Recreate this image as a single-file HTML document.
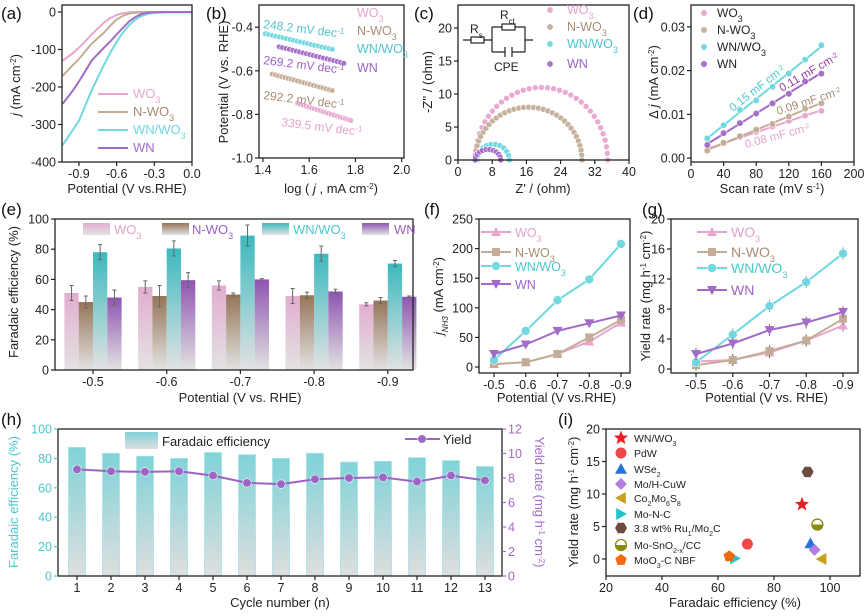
<!DOCTYPE html>
<html><head><meta charset="utf-8"><style>
html,body{margin:0;padding:0;background:#fff}
svg{display:block;font-family:"Liberation Sans",Arial,sans-serif}
</style></head><body>
<svg id="fig" width="865" height="616" viewBox="0 0 865 616" xmlns="http://www.w3.org/2000/svg">
<defs>
<linearGradient id="gPink" x1="0" y1="0" x2="0" y2="1"><stop offset="0" stop-color="#e2aed0"/><stop offset="1" stop-color="#e2e2e2"/></linearGradient>
<linearGradient id="gBrown" x1="0" y1="0" x2="0" y2="1"><stop offset="0" stop-color="#957558"/><stop offset="1" stop-color="#e2e2e2"/></linearGradient>
<linearGradient id="gTeal" x1="0" y1="0" x2="0" y2="1"><stop offset="0" stop-color="#3cb9bf"/><stop offset="1" stop-color="#e2e2e2"/></linearGradient>
<linearGradient id="gPurple" x1="0" y1="0" x2="0" y2="1"><stop offset="0" stop-color="#8e55b0"/><stop offset="1" stop-color="#e2e2e2"/></linearGradient>
<linearGradient id="gH" x1="0" y1="0" x2="0" y2="1"><stop offset="0" stop-color="#7fd3d8"/><stop offset="1" stop-color="#dedede"/></linearGradient>
</defs>
</svg>
<script>
// ---------- DATA ----------
const seriesNames = ['WO3','N-WO3','WN/WO3','WN'];
// (a) LSV
const lsvPot = [-1.03,-0.95,-0.9,-0.85,-0.8,-0.75,-0.7,-0.65,-0.6,-0.55,-0.5,-0.45,-0.4,-0.35,-0.3,-0.2,0];
const lsvWO3 = [-130,-110,-95,-78,-60,-44,-28,-16,-8,-3,-1,0,0,0,0,0,0];
const lsvNWO3 = [-170,-142,-125,-105,-85,-70,-55,-36,-20,-10,-4,-2,-1,0,0,0,0];
const lsvWNWO3 = [-355,-315,-290,-250,-210,-175,-140,-108,-80,-55,-35,-20,-10,-5,-2,-1,-1];
const lsvWN = [-245,-210,-185,-158,-130,-112,-95,-78,-60,-42,-25,-13,-5,-2,-1,0,0];
// (b) Tafel
const tafelStart = [1.55,1.44,1.41,1.47];
const tafelEnd = [1.78,1.70,1.70,1.75];
const tafelY0 = [-0.75,-0.615,-0.43,-0.49];
const tafelSlope = [339.5,292.2,248.2,269.2];
// (c) Nyquist
const nyqRs = [4,4,4.5,4];
const nyqRct = [31,25,7.5,6];
const nyqPeak = [11,8,2.4,1.6];
// (d) Cdl
const scanRates = [20,40,60,80,100,120,140,160];
const cdlWO3 = [0.002,0.0033,0.0048,0.006,0.0072,0.0085,0.0097,0.0108];
const cdlNWO3 = [0.0017,0.0035,0.005,0.0065,0.0078,0.0095,0.0113,0.0125];
const cdlWNWO3 = [0.0045,0.0075,0.011,0.0132,0.0163,0.0193,0.0225,0.0258];
const cdlWN = [0.003,0.0057,0.008,0.0102,0.0125,0.0147,0.0175,0.0193];
// (e) FE bars
const potLabels = ['-0.5','-0.6','-0.7','-0.8','-0.9'];
const feWO3 = [51,55,56,49,43.5];
const feNWO3 = [45,49,50,49.5,46];
const feWNWO3 = [78,80.5,89,77,70.5];
const feWN = [48,59.5,60,52,48.5];
const errWO3 = [5,4,3,5,1];
const errNWO3 = [4,7,1,2,2];
const errWNWO3 = [5,5,7,5,2];
const errWN = [5,5,0.5,1.5,0.5];
// (f) jNH3
const jWO3 = [5,8,22,43,75];
const jNWO3 = [5,8,22,50,80];
const jWNWO3 = [12,61,113,148,208];
const jWN = [22,38,61,74,87];
// (g) yield
const yWO3 = [1,1.2,2.2,3.8,5.8];
const yNWO3 = [0.5,1.2,2.4,3.8,6.7];
const yWNWO3 = [0.9,4.6,8.4,11.6,15.4];
const yWN = [2,3.4,5.2,6.2,7.6];
const yErr = [0.8,0.8,0.8,0.8,0.8];
// (h) cycling
const cycles = [1,2,3,4,5,6,7,8,9,10,11,12,13];
const cycFE = [87.5,83.5,81.5,80,84,82.5,80,83.5,77.5,78,80.5,78.5,74.5];
const cycYield = [8.7,8.55,8.5,8.55,8.2,7.6,7.5,7.9,8.0,8.05,7.7,8.2,7.8];
// (i) comparison
const cmpNames = ['WN/WO<tspan baseline-shift="sub" font-size="7">3</tspan>','PdW','WSe<tspan baseline-shift="sub" font-size="7">2</tspan>','Mo/H-CuW','Co<tspan baseline-shift="sub" font-size="7">2</tspan>Mo<tspan baseline-shift="sub" font-size="7">6</tspan>S<tspan baseline-shift="sub" font-size="7">8</tspan>','Mo-N-C','3.8 wt% Ru<tspan baseline-shift="sub" font-size="7">1</tspan>/Mo<tspan baseline-shift="sub" font-size="7">2</tspan>C','Mo-SnO<tspan baseline-shift="sub" font-size="7">2-x</tspan>/CC','MoO<tspan baseline-shift="sub" font-size="7">3</tspan>-C NBF'];
const cmpFE = [90,70.5,93,94.5,97,66,92,95.5,64];
const cmpYield = [8.4,2.3,2.4,1.4,0,0.1,13.4,5.3,0.4];

// ---------- STYLE ----------
const lineCol = ['#e8a6cf','#c3ad97','#6dd8df','#a26bc9'];
const txtCol = ['#e3a3cd','#a88c74','#4cc6cc','#9a62c2'];
const gradIds = ['gPink','gBrown','gTeal','gPurple'];
const subName = ['WO<tspan baseline-shift="sub" font-size="9">3</tspan>','N-WO<tspan baseline-shift="sub" font-size="9">3</tspan>','WN/WO<tspan baseline-shift="sub" font-size="9">3</tspan>','WN'];

const NS='http://www.w3.org/2000/svg';
const svg=document.getElementById('fig');
function el(tag, attrs, name){
  const e=document.createElementNS(NS,tag);
  for(const k in attrs) e.setAttribute(k,attrs[k]);
  
  
  svg.appendChild(e);
  return e;
}
function txt(x,y,s,size,fill,anchor,name,rot){
  const a={x:x,y:y,'font-size':size,fill:fill||'#222','text-anchor':anchor||'start'};
  if(rot!==undefined) a.transform='rotate('+rot+' '+x+' '+y+')';
  const e=el('text',a,name);
  e.innerHTML=s;
  return e;
}
function lin(d0,d1,r0,r1){return v=>r0+(v-d0)*(r1-r0)/(d1-d0);}
function frame(x0,y0,x1,y1,name){el('rect',{x:x0,y:y0,width:x1-x0,height:y1-y0,fill:'none',stroke:'#222','stroke-width':1.3},name);}
function xTicks(sc,yb,vals,labels,name){
  vals.forEach((v,i)=>{const x=sc(v);
    el('line',{x1:x,x2:x,y1:yb,y2:yb+4,stroke:'#222','stroke-width':1.2},name+'-tick');
    txt(x,yb+16,labels[i],12.5,'#222','middle',name+'-label');});
}
function yTicks(sc,xl,vals,labels,name,col,right){
  vals.forEach((v,i)=>{const y=sc(v);
    el('line',{x1:xl,x2:right?xl+4:xl-4,y1:y,y2:y,stroke:col||'#222','stroke-width':1.2},name+'-tick');
    txt(right?xl+6:xl-6,y+4.5,labels[i],12.5,col||'#222',right?'start':'end',name+'-label');});
}
function poly(pts,col,w,name){el('polyline',{points:pts.map(p=>p[0].toFixed(1)+','+p[1].toFixed(1)).join(' '),fill:'none',stroke:col,'stroke-width':w,'stroke-linejoin':'round'},name);}
function ball(x,y,r,col,name){el('circle',{cx:x,cy:y,r:r,fill:col,stroke:'#fff','stroke-width':0.6,opacity:0.95},name);}
function tri(x,y,r,col,dir,name){
  let p;
  if(dir==='up') p=[[x,y-r],[x+r,y+r*0.8],[x-r,y+r*0.8]];
  else if(dir==='down') p=[[x,y+r],[x+r,y-r*0.8],[x-r,y-r*0.8]];
  else if(dir==='left') p=[[x-r,y],[x+r*0.8,y-r],[x+r*0.8,y+r]];
  else p=[[x+r,y],[x-r*0.8,y-r],[x-r*0.8,y+r]];
  el('polygon',{points:p.map(q=>q.join(',')).join(' '),fill:col},name);
}
function square(x,y,r,col,name){el('rect',{x:x-r,y:y-r,width:2*r,height:2*r,fill:col},name);}
function label(x,y,s,name){txt(x,y,s,17,'#111','start',name);}

// ===== (a) =====
(function(){
  const sx=lin(-1.035,0,62,192), sy=lin(-400,18.7,162,5);
  label(1,19,'(a)','panel-a-label');
  const sets=[lsvWO3,lsvNWO3,lsvWNWO3,lsvWN];
  sets.forEach((s,k)=>poly(lsvPot.map((p,i)=>[sx(p),sy(s[i])]),lineCol[k],2,'lsv-curve-'+seriesNames[k]));
  frame(62,5,192,162,'panel-a-frame');
  xTicks(sx,162,[-0.9,-0.6,-0.3,0],['-0.9','-0.6','-0.3','0.0'],'a-x');
  yTicks(sy,62,[0,-100,-200,-300,-400],['0','-100','-200','-300','-400'],'a-y');
  txt(127,193,'Potential (V vs.RHE)',13,'#222','middle','a-x-title');
  txt(20,85,'<tspan font-style="italic">j</tspan> (mA cm<tspan baseline-shift="super" font-size="8">-2</tspan>)',13,'#222','middle','a-y-title',-90);
  [98,116,134,152].forEach((y,k)=>{
    el('line',{x1:98,x2:128,y1:y-4,y2:y-4,stroke:lineCol[k],'stroke-width':2},'a-legend-line');
    txt(133,y,subName[k],13,k===1?'#a88c74':lineCol[k],'start','a-legend-text');
  });
})();

// ===== (b) =====
(function(){
  const sx=lin(1.383,2.01,259,404), sy=lin(-1.0,-0.3,158,5.4);
  label(206,19,'(b)','panel-b-label');
  for(let k=0;k<4;k++){
    const n=20;
    for(let i=0;i<n;i++){
      const x=tafelStart[k]+(tafelEnd[k]-tafelStart[k])*i/(n-1);
      const y=tafelY0[k]-tafelSlope[k]/1000*(x-tafelStart[k]);
      ball(sx(x),sy(y),2.8,lineCol[k],'tafel-point-'+seriesNames[k]);
    }
  }
  frame(259,5,404,158,'panel-b-frame');
  xTicks(sx,158,[1.4,1.6,1.8,2.0],['1.4','1.6','1.8','2.0'],'b-x');
  yTicks(sy,259,[-0.4,-0.6,-0.8,-1.0],['-0.4','-0.6','-0.8','-1.0'],'b-y');
  txt(331,193,'log ( <tspan font-style="italic">j</tspan> , mA cm<tspan baseline-shift="super" font-size="8">-2</tspan>)',13,'#222','middle','b-x-title');
  txt(228,82,'Potential (V vs. RHE)',13,'#222','middle','b-y-title',-90);
  const sup='<tspan baseline-shift="super" font-size="8">-1</tspan>';
  txt(263,28,'248.2  mV dec'+sup,12,txtCol[2],'start','tafel-label-wnwo3',7);
  txt(263,64,'269.2  mV dec'+sup,12,txtCol[3],'start','tafel-label-wn',7);
  txt(263,99,'292.2  mV dec'+sup,12,txtCol[1],'start','tafel-label-nwo3',7);
  txt(281,126,'339.5  mV dec'+sup,12,txtCol[0],'start','tafel-label-wo3',7);
  [17,35,53,72].forEach((y,k)=>txt(357,y,subName[k],12.5,txtCol[k],'start','b-legend-text'));
})();

// ===== (c) =====
(function(){
  const sx=lin(0,40,458,629), sy=lin(0,23.5,160,5);
  label(414,19,'(c)','panel-c-label');
  for(let k=0;k<4;k++){
    const n=k<2?34:11;
    for(let i=0;i<=n;i++){
      const t=Math.PI*i/n;
      const x=nyqRs[k]+nyqRct[k]/2*(1-Math.cos(t));
      const y=nyqPeak[k]*Math.sin(t);
      ball(sx(x),sy(y),3,lineCol[k],'nyquist-point-'+seriesNames[k]);
    }
  }
  frame(458,5,629,160,'panel-c-frame');
  xTicks(sx,160,[0,8,16,24,32,40],['0','8','16','24','32','40'],'c-x');
  yTicks(sy,458,[0,5,10,15,20],['0','5','10','15','20'],'c-y');
  txt(543,193,"Z' / (ohm)",13,'#222','middle','c-x-title');
  txt(432,82,"-Z'' / (ohm)",13,'#222','middle','c-y-title',-90);
  el('path',{d:'M463,40 H471 M484,40 H492 M492,27 V52 M492,27 H502 M515,27 H525 V52 M525,40 H533 M492,52 H505 M512,52 H525 M505,47 V57 M512,47 V57',stroke:'#222',fill:'none','stroke-width':1.2},'circuit-wires');
  el('rect',{x:471,y:37,width:13,height:6,fill:'#fff',stroke:'#222','stroke-width':1.2},'circuit-rs');
  el('rect',{x:502,y:24,width:13,height:6,fill:'#fff',stroke:'#222','stroke-width':1.2},'circuit-rct');
  txt(470,33,'R<tspan baseline-shift="sub" font-size="8">s</tspan>',12,'#222','start','rs-label');
  txt(500,19,'R<tspan baseline-shift="sub" font-size="8">ct</tspan>',12,'#222','start','rct-label');
  txt(494,71,'CPE',12,'#222','start','cpe-label');
  [14,31,48,68].forEach((y,k)=>{ball(550,y-4,3.2,lineCol[k],'c-legend-marker');txt(567,y,subName[k],12.5,txtCol[k],'start','c-legend-text');});
})();

// ===== (d) =====
(function(){
  const sx=lin(0,200,691,854), sy=lin(-0.0009,0.035,162,5);
  label(633,19,'(d)','panel-d-label');
  const sets=[cdlWO3,cdlNWO3,cdlWNWO3,cdlWN];
  sets.forEach((s,k)=>{
    const n=s.length; let mx=0,my=0; scanRates.forEach((x,i)=>{mx+=x;my+=s[i];}); mx/=n;my/=n;
    let num=0,den=0; scanRates.forEach((x,i)=>{num+=(x-mx)*(s[i]-my);den+=(x-mx)*(x-mx);});
    const b=num/den,a=my-b*mx;
    el('line',{x1:sx(20),y1:sy(a+b*20),x2:sx(160),y2:sy(a+b*160),stroke:lineCol[k],'stroke-width':2},'cdl-fit-'+seriesNames[k]);
    scanRates.forEach((x,i)=>ball(sx(x),sy(s[i]),3.3,lineCol[k],'cdl-point-'+seriesNames[k]));
  });
  frame(691,5,854,162,'panel-d-frame');
  xTicks(sx,162,[0,40,80,120,160,200],['0','40','80','120','160','200'],'d-x');
  yTicks(sy,691,[0,0.01,0.02,0.03],['0.00','0.01','0.02','0.03'],'d-y');
  txt(772,193,'Scan rate (mV s<tspan baseline-shift="super" font-size="8">-1</tspan>)',13,'#222','middle','d-x-title');
  txt(658,82,'Δ <tspan font-style="italic">j</tspan> (mA cm<tspan baseline-shift="super" font-size="8">-2</tspan>)',13,'#222','middle','d-y-title',-90);
  const sup='<tspan baseline-shift="super" font-size="7">-2</tspan>';
  txt(733,112,'0.15 mF cm'+sup,11.5,txtCol[2],'start','cdl-label-wnwo3',-38);
  txt(782,92,'0.11 mF cm'+sup,11.5,'#9b3c9c','start','cdl-label-wn',-30);
  txt(778,115,'0.09 mF cm'+sup,11.5,'#a88c74','start','cdl-label-nwo3',-18);
  txt(746,148,'0.08 mF cm'+sup,11.5,txtCol[0],'start','cdl-label-wo3',-15);
  [17,34,51,68].forEach((y,k)=>{ball(704,y-4,3.3,lineCol[k],'d-legend-marker');txt(717,y,subName[k],12,'#222','start','d-legend-text');});
})();

// ===== (e) =====
(function(){
  const sy=lin(0,100,370,219);
  const cx=i=>93+i*73.7;
  label(1,215,'(e)','panel-e-label');
  const sets=[feWO3,feNWO3,feWNWO3,feWN], errs=[errWO3,errNWO3,errWNWO3,errWN];
  potLabels.forEach((p,i)=>{
    sets.forEach((s,k)=>{
      const x=cx(i)-28.6+k*14.3;
      el('rect',{x:x,y:sy(s[i]),width:14.3,height:370-sy(s[i]),fill:'url(#'+gradIds[k]+')'},'fe-bar-'+seriesNames[k]);
      const xm=x+7.15;
      el('path',{d:'M'+xm+','+sy(s[i]+errs[k][i])+' V'+sy(s[i]-errs[k][i])+' M'+(xm-2)+','+sy(s[i]+errs[k][i])+' H'+(xm+2)+' M'+(xm-2)+','+sy(s[i]-errs[k][i])+' H'+(xm+2),stroke:'#666','stroke-width':1},'fe-error-bar');
    });
  });
  frame(55,219,413,370,'panel-e-frame');
  xTicks(cx,370,[0,1,2,3,4],potLabels,'e-x');
  yTicks(sy,55,[0,20,40,60,80,100],['0','20','40','60','80','100'],'e-y');
  txt(240,402,'Potential (V vs. RHE)',13,'#222','middle','e-x-title');
  txt(18,292,'Faradaic efficiency (%)',13,'#222','middle','e-y-title',-90);
  [[83,114],[162,192],[262,293],[362,394]].forEach((p,k)=>{
    el('rect',{x:p[0],y:223,width:27,height:12,fill:'url(#'+gradIds[k]+')'},'e-legend-swatch');
    txt(p[1],234,subName[k],13,k===1?'#9a62c2':txtCol[k],'start','e-legend-text');
  });
})();

// ===== (f) & (g) =====
function linePanel(opt){
  const sx=i=>opt.x0+i*opt.step, sy=lin(opt.ymin,opt.ymax,373,219);
  label(opt.lx,215,opt.label,opt.pname+'-label');
  opt.sets.forEach((s,k)=>{
    poly(s.map((v,i)=>[sx(i),sy(v)]),lineCol[k],2,opt.pname+'-line-'+seriesNames[k]);
    s.forEach((v,i)=>{
      const x=sx(i),y=sy(v);
      if(opt.err){el('path',{d:'M'+x+','+sy(v+opt.err[i])+' V'+sy(v-opt.err[i]),stroke:'#777','stroke-width':1},opt.pname+'-error');}
      if(k===0) tri(x,y,5,lineCol[0],'up',opt.pname+'-marker-WO3');
      else if(k===1) square(x,y,4,lineCol[1],opt.pname+'-marker-NWO3');
      else if(k===2) ball(x,y,4.5,lineCol[2],opt.pname+'-marker-WNWO3');
      else tri(x,y,5,lineCol[3],'down',opt.pname+'-marker-WN');
    });
  });
  frame(opt.fx0,219,opt.fx1,373,opt.pname+'-frame');
  xTicks(sx,373,[0,1,2,3,4],potLabels,opt.pname+'-x');
  yTicks(sy,opt.fx0,opt.yt,opt.yt.map(String),opt.pname+'-y');
  txt((opt.fx0+opt.fx1)/2+2,402,opt.xtitle,13,'#222','middle',opt.pname+'-x-title');
  txt(opt.ytx,296,opt.ytitle,13,'#222','middle',opt.pname+'-y-title',-90);
  opt.legY.forEach((y,k)=>{
    const x=opt.legX;
    el('line',{x1:x,x2:x+30,y1:y,y2:y,stroke:lineCol[k],'stroke-width':2},opt.pname+'-legend-line');
    if(k===0) tri(x+15,y,5,lineCol[0],'up','legend-marker');
    else if(k===1) square(x+15,y,4,lineCol[1],'legend-marker');
    else if(k===2) ball(x+15,y,4.5,lineCol[2],'legend-marker');
    else tri(x+15,y,5,lineCol[3],'down','legend-marker');
    txt(x+34,y+5,subName[k],opt.legSize,txtCol[k],'start',opt.pname+'-legend-text');
  });
}
linePanel({pname:'panel-f',label:'(f)',lx:424,x0:494,step:31.75,ymin:-10.1,ymax:250,fx0:479,fx1:630,
  sets:[jWO3,jNWO3,jWNWO3,jWN],yt:[0,50,100,150,200,250],xtitle:'Potential (V vs.RHE)',
  ytitle:'<tspan font-style="italic">j</tspan><tspan baseline-shift="sub" font-size="8" font-style="italic">NH3</tspan> (mA cm<tspan baseline-shift="super" font-size="8">-2</tspan>)',ytx:443,
  legX:481,legY:[232,252,266,284],legSize:12.5});
linePanel({pname:'panel-g',label:'(g)',lx:642,x0:696,step:36.75,ymin:-0.53,ymax:20,fx0:671,fx1:858,
  sets:[yWO3,yNWO3,yWNWO3,yWN],err:yErr,yt:[0,4,8,12,16,20],xtitle:'Potential (V vs. RHE)',
  ytitle:'Yield rate (mg h<tspan baseline-shift="super" font-size="8">-1</tspan> cm<tspan baseline-shift="super" font-size="8">-2</tspan>)',ytx:650,
  legX:697,legY:[232,252,268,290],legSize:14});

// ===== (h) =====
(function(){
  const sx=lin(1,13,77,485), sy=lin(0,100,576,429), sy2=lin(0,12,576,429);
  label(1,425,'(h)','panel-h-label');
  cycles.forEach((c,i)=>el('rect',{x:sx(c)-8.5,y:sy(cycFE[i]),width:17,height:576-sy(cycFE[i]),fill:'url(#gH)',stroke:'#a8e3e6','stroke-width':0.8},'cycle-fe-bar'));
  poly(cycles.map((c,i)=>[sx(c),sy2(cycYield[i])]),'#9d63c4',2,'cycle-yield-line');
  cycles.forEach((c,i)=>ball(sx(c),sy2(cycYield[i]),4.3,'#9d63c4','cycle-yield-point'));
  frame(58,429,502,576,'panel-h-frame');
  xTicks(sx,576,cycles,cycles.map(String),'h-x');
  yTicks(sy,58,[0,20,40,60,80,100],['0','20','40','60','80','100'],'h-y-left','#4cc6cc');
  yTicks(sy2,502,[0,2,4,6,8,10,12],['0','2','4','6','8','10','12'],'h-y-right','#a26bc9',true);
  txt(280,607,'Cycle number (n)',13,'#222','middle','h-x-title');
  txt(18,502,'Faradaic efficiency (%)',13,'#4cc6cc','middle','h-y-left-title',-90);
  txt(535,502,'Yield rate (mg h<tspan baseline-shift="super" font-size="8">-1</tspan> cm<tspan baseline-shift="super" font-size="8">-2</tspan>)',13,'#a26bc9','middle','h-y-right-title',90);
  el('rect',{x:125,y:432,width:33,height:17,fill:'url(#gH)'},'h-legend-swatch');
  txt(162,446,'Faradaic efficiency',13,'#222','start','h-legend-text');
  el('line',{x1:405,x2:440,y1:439,y2:439,stroke:'#9d63c4','stroke-width':2},'h-legend-line');
  ball(422,439,4.3,'#9d63c4','h-legend-marker');
  txt(443,444,'Yield',13,'#222','start','h-legend-yield-text');
})();

// ===== (i) =====
function cmpMarker(k,x,y,name){
  if(k===0){let p=[];for(let j=0;j<10;j++){const r=j%2?3.2:7.5,a=-Math.PI/2+j*Math.PI/5;p.push((x+r*Math.cos(a)).toFixed(1)+','+(y+r*Math.sin(a)).toFixed(1));}el('polygon',{points:p.join(' '),fill:'#ee1c25'},name);}
  else if(k===1) el('circle',{cx:x,cy:y,r:5.5,fill:'#f04848'},name);
  else if(k===2) tri(x,y,6,'#2673d9','up',name);
  else if(k===3) el('polygon',{points:[x,y-6,x+6,y,x,y+6,x-6,y].join(','),fill:'#b47ee0'},name);
  else if(k===4) tri(x,y,6,'#c8a020','left',name);
  else if(k===5) tri(x,y,6,'#22c4cc','right',name);
  else if(k===6){let p=[];for(let j=0;j<6;j++){const a=j*Math.PI/3;p.push((x+6*Math.cos(a)).toFixed(1)+','+(y+6*Math.sin(a)).toFixed(1));}el('polygon',{points:p.join(' '),fill:'#6e4a40'},name);}
  else if(k===7){el('circle',{cx:x,cy:y,r:5.5,fill:'#fff',stroke:'#8a8a10','stroke-width':1.3},name);el('path',{d:'M'+(x-5.5)+','+y+' A5.5,5.5 0 0 0 '+(x+5.5)+','+y+' Z',fill:'#8a8a10'},name+'-half');}
  else {let p=[];for(let j=0;j<5;j++){const a=-Math.PI/2+j*2*Math.PI/5;p.push((x+6*Math.cos(a)).toFixed(1)+','+(y+6*Math.sin(a)).toFixed(1));}el('polygon',{points:p.join(' '),fill:'#f26a0f'},name);}
}
(function(){
  const sx=lin(20,100,606,830), sy=lin(0,20,559,429);
  label(558,425,'(i)','panel-i-label');
  cmpFE.forEach((f,k)=>cmpMarker(k,sx(f),sy(cmpYield[k]),'comparison-point'));
  frame(606,429,860,576,'panel-i-frame');
  xTicks(sx,576,[20,40,60,80,100],['20','40','60','80','100'],'i-x');
  yTicks(sy,606,[0,5,10,15,20],['0','5','10','15','20'],'i-y');
  txt(735,607,'Faradaic efficiency (%)',13,'#222','middle','i-x-title');
  txt(578,502,'Yield rate (mg h<tspan baseline-shift="super" font-size="8">-1</tspan> cm<tspan baseline-shift="super" font-size="8">-2</tspan>)',13,'#222','middle','i-y-title',-90);
  [438,453,469,484,498,514,528,545,560].forEach((y,k)=>{cmpMarker(k,621,y,'i-legend-marker');txt(634,y+4,cmpNames[k],10.5,'#222','start','i-legend-text');});
})();
</script>
</body></html>
